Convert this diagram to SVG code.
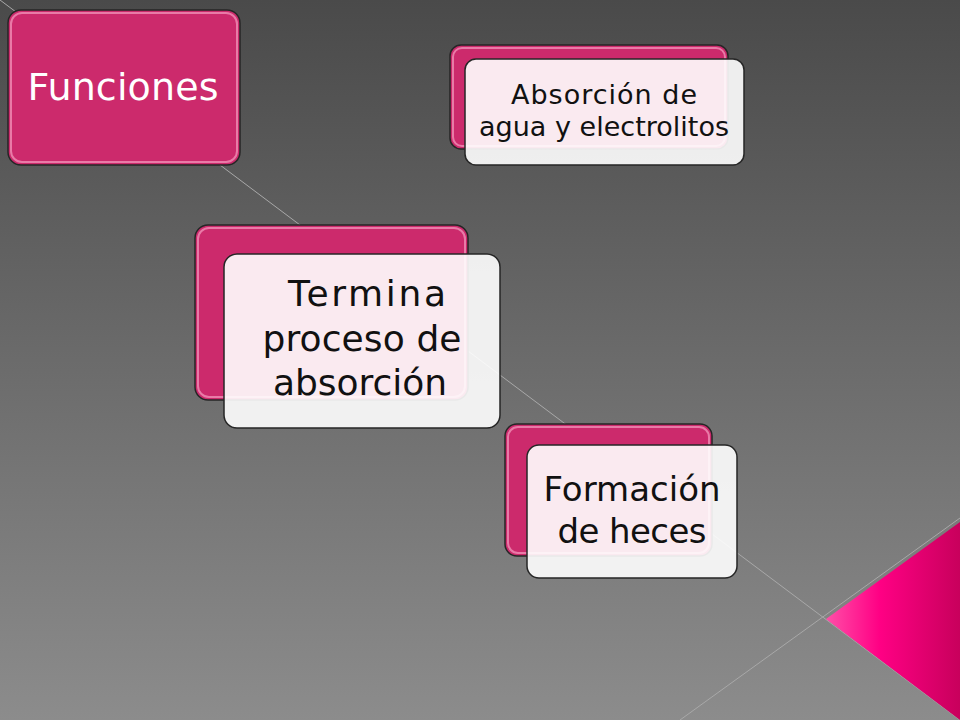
<svg xmlns="http://www.w3.org/2000/svg" width="960" height="720" viewBox="0 0 960 720">
<defs>
<linearGradient id="bg" x1="0" y1="0" x2="0" y2="1">
<stop offset="0" stop-color="#4a4a4a"/>
<stop offset="1" stop-color="#8c8c8c"/>
</linearGradient>
<linearGradient id="tri" x1="0" y1="0" x2="1" y2="0">
<stop offset="0" stop-color="#ff4fa8"/>
<stop offset="0.4" stop-color="#ff0084"/>
<stop offset="1" stop-color="#c8005c"/>
</linearGradient>
<style>
.pink{fill:#cc2a6c;stroke:#262626;stroke-width:1.5}
.hl{fill:none;stroke:#f59cc0;stroke-width:2;opacity:0.7}
.card{fill:#ffffff;fill-opacity:0.9;stroke:#262626;stroke-width:1.5}
.t{font-family:"DejaVu Sans","Liberation Sans",sans-serif;text-anchor:middle;fill:#111111}
.tw{font-family:"DejaVu Sans","Liberation Sans",sans-serif;text-anchor:middle;fill:#ffffff}
.deco{stroke:#a8a8a8;stroke-width:1;fill:none}
</style>
</defs>
<g id="background">
<rect x="0" y="0" width="960" height="720" fill="url(#bg)"/>
<line class="deco" x1="0" y1="0" x2="960" y2="720"/>
<line class="deco" x1="680" y1="720" x2="960" y2="518"/>
<polygon points="826,619 960,522 960,720" fill="url(#tri)"/>
</g>
<g id="connectors"></g>
<g id="node-funciones">
<rect class="pink" x="8" y="10" width="232" height="155" rx="13"/>
<rect class="hl" x="11" y="13" width="226" height="149" rx="11"/>
<text class="tw" x="123" y="100" font-size="38" textLength="191" lengthAdjust="spacing">Funciones</text>
</g>
<g id="node-absorcion-agua">
<rect class="pink" x="450" y="45" width="278" height="104" rx="11"/>
<rect class="hl" x="453" y="48" width="272" height="98" rx="9"/>
<rect class="card" x="465" y="59" width="279" height="106" rx="11"/>
<text class="t" x="604" y="104" font-size="27" textLength="186" lengthAdjust="spacing">Absorción de</text>
<text class="t" x="604" y="136" font-size="27" textLength="250" lengthAdjust="spacing">agua y electrolitos</text>
</g>
<g id="node-termina">
<rect class="pink" x="195" y="225" width="273" height="175" rx="13"/>
<rect class="hl" x="198" y="228" width="267" height="169" rx="11"/>
<rect class="card" x="224" y="254" width="276" height="174" rx="13"/>
<text class="t" x="367" y="306" font-size="36" textLength="158" lengthAdjust="spacing">Termina</text>
<text class="t" x="362" y="351" font-size="36" textLength="199" lengthAdjust="spacing">proceso de</text>
<text class="t" x="360" y="395" font-size="36" textLength="174" lengthAdjust="spacing">absorción</text>
</g>
<g id="node-formacion">
<rect class="pink" x="505" y="424" width="207" height="132" rx="12"/>
<rect class="hl" x="508" y="427" width="201" height="126" rx="10"/>
<rect class="card" x="527" y="445" width="210" height="133" rx="12"/>
<text class="t" x="632" y="501" font-size="34" textLength="177" lengthAdjust="spacing">Formación</text>
<text class="t" x="632" y="543" font-size="34" textLength="149" lengthAdjust="spacing">de heces</text>
</g>
</svg>
